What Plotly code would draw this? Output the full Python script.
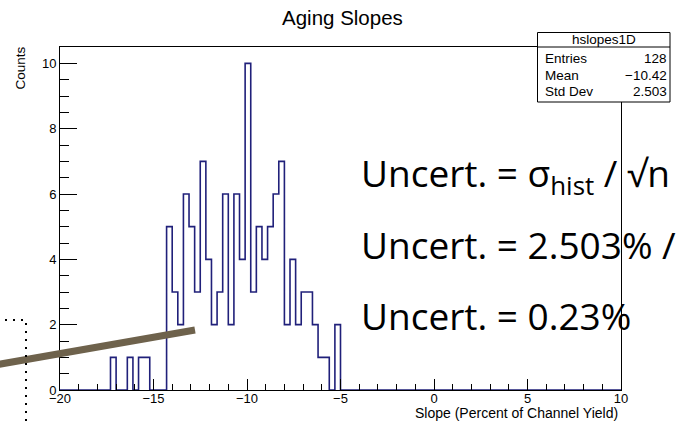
import numpy as np
import plotly.graph_objects as go

# ---- histogram: 100 bins over [-20, 10] ----
x_low, x_high, n_bins = -20.0, 10.0, 100
first_bin = 9  # index of the first filled bin
bin_counts = [1, 0, 0, 1, 0, 1, 1, 0, 0, 0,
              5, 3, 2, 6, 5, 3, 7, 4, 2, 3,
              6, 2, 6, 4, 10, 3, 5, 4, 5, 6,
              7, 2, 4, 2, 3, 3, 2, 1, 1, 0, 2]

# ---- statistics box ----
hist_name = "hslopes1D"
stat_names = ["Entries", "Mean", "Std Dev"]
stat_values = ["128", "\u221210.42", "2.503"]

# ---- overlay text ----
uncert_lines = ["Uncert. = \u03c3<sub>hist</sub> / \u221an",
                "Uncert. = 2.503% /",
                "Uncert. = 0.23%"]

title_text = "Aging Slopes"
x_title = "Slope (Percent of Channel Yield)"
y_title = "Counts"

# ---- canvas geometry (pixels) ----
W, H = 678, 422
L, R, T, B = 60, 57, 47, 32
PW, PH = W - L - R, H - T - B
y_top = 10.5

def px(x):
    return (x - L) / PW

def py(y):
    return (H - B - y) / PH

edges = np.linspace(x_low, x_high, n_bins + 1)
counts = np.zeros(n_bins)
counts[first_bin:first_bin + len(bin_counts)] = bin_counts
step_y = np.append(counts, counts[-1])

ROOT_FONT = "Liberation Sans, Arial, Helvetica, sans-serif"
NAVY = "#20207a"

fig = go.Figure()
fig.add_trace(go.Scatter(
    x=edges, y=step_y, mode="lines", line_shape="hv",
    line=dict(color=NAVY, width=1.6), hoverinfo="skip", showlegend=False))

fig.update_xaxes(
    range=[x_low, x_high], dtick=5, showline=True, mirror=True,
    linecolor="black", linewidth=1, ticks="inside", ticklen=11,
    tickcolor="black", tickwidth=1, showgrid=False, zeroline=False,
    ticklabelstandoff=-4,
    tickfont=dict(family=ROOT_FONT, size=13, color="black"),
    minor=dict(dtick=1, ticks="inside", ticklen=6, tickcolor="black",
               showgrid=False))
fig.update_yaxes(
    range=[0, y_top], dtick=2, showline=True, mirror=True,
    linecolor="black", linewidth=1, ticks="inside", ticklen=17,
    tickcolor="black", tickwidth=1, showgrid=False, zeroline=False,
    tickfont=dict(family=ROOT_FONT, size=13, color="black"),
    minor=dict(dtick=0.5, ticks="inside", ticklen=9, tickcolor="black",
               showgrid=False))

shapes = []
annotations = []

# stats box
bx0, bx1, by0, by1, by_head = 537.5, 670, 32.5, 102, 47
shapes.append(dict(type="rect", xref="paper", yref="paper",
                   x0=px(bx0), x1=px(bx1), y0=py(by1), y1=py(by0),
                   fillcolor="white", line=dict(color="black", width=1),
                   layer="above"))
shapes.append(dict(type="line", xref="paper", yref="paper",
                   x0=px(bx0), x1=px(bx1), y0=py(by_head), y1=py(by_head),
                   line=dict(color="black", width=1), layer="above"))
annotations.append(dict(text=hist_name, xref="paper", yref="paper",
                        x=px((bx0 + bx1) / 2), y=py(40), xanchor="center",
                        yanchor="middle", showarrow=False,
                        font=dict(family=ROOT_FONT, size=13.5, color="black")))
for i, (name, val) in enumerate(zip(stat_names, stat_values)):
    yc = 58.5 + i * 16.6
    annotations.append(dict(text=name, xref="paper", yref="paper",
                            x=px(543), y=py(yc), xanchor="left",
                            yanchor="middle", showarrow=False,
                            font=dict(family=ROOT_FONT, size=13.5,
                                      color="black")))
    annotations.append(dict(text=val, xref="paper", yref="paper",
                            x=px(669), y=py(yc), xanchor="right",
                            yanchor="middle", showarrow=False,
                            font=dict(family=ROOT_FONT, size=13.5,
                                      color="black")))

# title and axis titles
annotations.append(dict(text=title_text, xref="paper", yref="paper",
                        x=px(342.5), y=py(17.5), xanchor="center",
                        yanchor="middle", showarrow=False,
                        font=dict(family=ROOT_FONT, size=20.5, color="black")))
annotations.append(dict(text=x_title, xref="paper", yref="paper",
                        x=px(620), y=py(412.5), xanchor="right",
                        yanchor="middle", showarrow=False,
                        font=dict(family=ROOT_FONT, size=14, color="black")))
annotations.append(dict(text=y_title, xref="paper", yref="paper",
                        x=px(20), y=py(68.5), xanchor="center",
                        yanchor="middle", textangle=-90, showarrow=False,
                        font=dict(family=ROOT_FONT, size=13.5, color="black")))

# large uncertainty notes
for i, line in enumerate(uncert_lines):
    annotations.append(dict(text=line, xref="paper", yref="paper",
                            x=px(359), y=py(175 + 70 * i), xanchor="left",
                            yanchor="middle", showarrow=False,
                            font=dict(family="Open Sans, Noto Sans, sans-serif",
                                      size=37, color="black")))

# brown pointer stroke
shapes.append(dict(type="line", xref="paper", yref="paper",
                   x0=px(-5), y0=py(365), x1=px(195), y1=py(330),
                   line=dict(color="#6e624c", width=7), layer="above"))

# dotted outline at lower left
shapes.append(dict(type="path", xref="paper", yref="paper",
                   path=f"M {px(5)},{py(320)} L {px(26)},{py(320)} "
                        f"L {px(26)},{py(426)}",
                   line=dict(color="black", width=2, dash="2px,6px"),
                   layer="above"))

fig.update_layout(
    width=W, height=H, margin=dict(l=L, r=R, t=T, b=B),
    paper_bgcolor="white", plot_bgcolor="white",
    shapes=shapes, annotations=annotations, showlegend=False)

fig.write_html("out.html")
